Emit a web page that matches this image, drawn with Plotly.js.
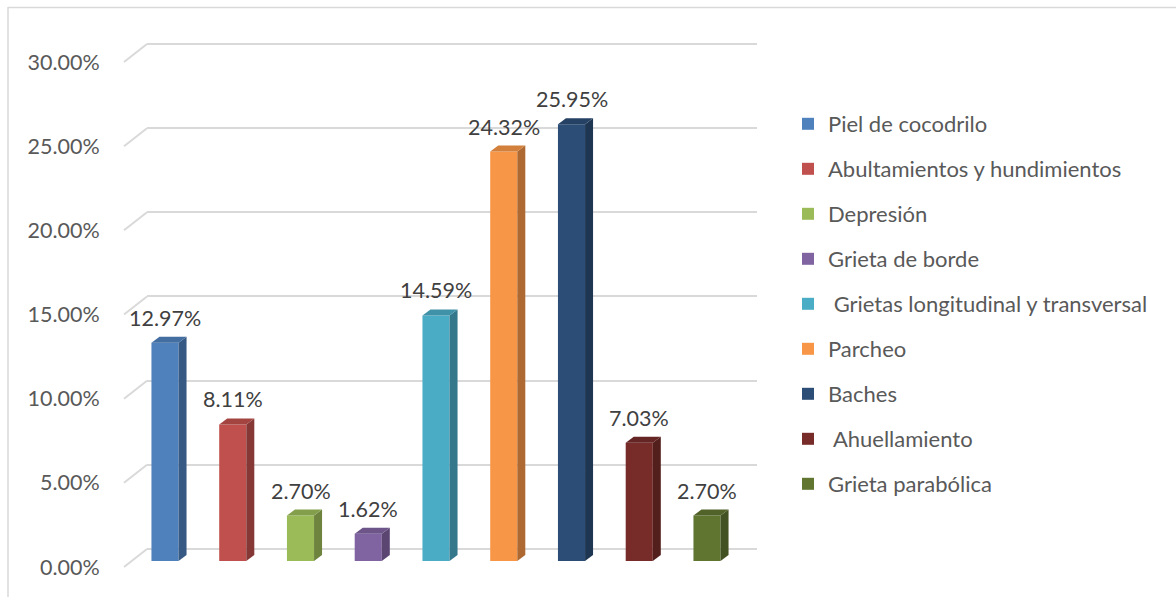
<!DOCTYPE html>
<html><head><meta charset="utf-8">
<script src="https://cdn.plot.ly/plotly-3.0.1.min.js"></script>
<style>html,body{margin:0;padding:0;background:#fff}#chart{width:1176px;height:597px}</style>
</head><body><div id="chart"></div>
<script>
// ---- data ----
const categories = ['Piel de cocodrilo', 'Abultamientos y hundimientos', 'Depresión', 'Grieta de borde',
  '\u00a0Grietas longitudinal y transversal', 'Parcheo', 'Baches', '\u00a0Ahuellamiento', 'Grieta parabólica'];
const values = [12.97, 8.11, 2.70, 1.62, 14.59, 24.32, 25.95, 7.03, 2.70];
const colors = ['#4F81BD', '#C0504D', '#9BBB59', '#8064A2', '#4BACC6', '#F79646', '#2C4D75', '#772C2A', '#5F7530'];
const tickValues = [0, 5, 10, 15, 20, 25, 30];
const tickLabels = ['0.00%', '5.00%', '10.00%', '15.00%', '20.00%', '25.00%', '30.00%'];

// ---- geometry (pixels) ----
const W = 1176, H = 597;
const FONT = 'Lato, "Open Sans", sans-serif';
const px = v => v / W, py = v => 1 - v / H;
const yRange = [0, 30];
const kyAll = (549 - 44) / 30;           // px per percent
const backExt = [-1.6, 31];              // extended back-plane range (room for slants)
const back = { x0: 147, x1: 757, y0: 549 + 1.6 * kyAll, y1: 44 - 1 * kyAll };
const front = { x0: 124, x1: 747, y0: 567, y1: 62 };
const barsP = { x0: 124.35, x1: 747.65, y0: 561, y1: 56 };
const xRange = [-0.6, 8.6];
const barWidth = 0.4;
const depthX = 8, depthY = 6;
const kx = (barsP.x1 - barsP.x0) / (xRange[1] - xRange[0]);
const ky = (barsP.y0 - barsP.y1) / (yRange[1] - yRange[0]);

function shade(hex, f) {
  const n = parseInt(hex.slice(1), 16);
  const r = Math.round(((n >> 16) & 255) * f), g = Math.round(((n >> 8) & 255) * f), b = Math.round((n & 255) * f);
  return `rgb(${r},${g},${b})`;
}

const traces = [
  { type: 'scatter', x: [], y: [], xaxis: 'x', yaxis: 'y', showlegend: false, hoverinfo: 'skip' },
  { type: 'scatter', x: [], y: [], xaxis: 'x2', yaxis: 'y2', showlegend: false, hoverinfo: 'skip' }
];
categories.forEach((c, i) => {
  traces.push({
    type: 'bar', x: [i], y: [values[i]], width: barWidth, name: c,
    marker: { color: colors[i], line: { width: 0 } },
    xaxis: 'x3', yaxis: 'y3', legendgroup: 'g' + i, hoverinfo: 'skip'
  });
});

const shapes = [];
// outer frame (only top and left edges visible)
shapes.push({ type: 'line', xref: 'paper', yref: 'paper', x0: px(8), x1: 1, y0: py(7.5), y1: py(7.5), line: { color: '#d9d9d9', width: 1.5 } });
shapes.push({ type: 'line', xref: 'paper', yref: 'paper', x0: px(8), x1: px(8), y0: py(7), y1: 0, line: { color: '#d9d9d9', width: 1.5 } });
// slanted side-wall gridline segments
tickValues.forEach(v => {
  shapes.push({
    type: 'line', xref: 'x domain', yref: 'y', layer: 'below',
    xsizemode: 'pixel', xanchor: 0, x0: 0, x1: -(back.x0 - front.x0),
    ysizemode: 'pixel', yanchor: v, y0: 0, y1: -(front.y0 - 549),
    line: { color: '#d9d9d9', width: 2 }
  });
});
// 3D faces of bars
const dxU = depthX / kx, dyU = depthY / ky, hw = barWidth / 2;
values.forEach((v, i) => {
  const xl = i - hw, xr = i + hw;
  shapes.push({
    type: 'path', xref: 'x3', yref: 'y3', layer: 'above',
    path: `M${xr},0 L${xr + dxU},${dyU} L${xr + dxU},${v + dyU} L${xr},${v} Z`,
    fillcolor: shade(colors[i], 0.7), line: { width: 0 }
  });
  shapes.push({
    type: 'path', xref: 'x3', yref: 'y3', layer: 'above',
    path: `M${xl},${v} L${xr},${v} L${xr + dxU},${v + dyU} L${xl + dxU},${v + dyU} Z`,
    fillcolor: shade(colors[i], 0.85), line: { width: 0 }
  });
});

const annotations = values.map((v, i) => ({
  xref: 'x3', yref: 'y3', x: i, y: v, text: v.toFixed(2) + '%', showarrow: false,
  yanchor: 'middle', yshift: 25, font: { family: FONT, size: 21.5, color: '#404040' }
}));

const hidden = { visible: false, fixedrange: true };
const layout = {
  width: W, height: H, margin: { l: 0, r: 0, t: 0, b: 0 },
  paper_bgcolor: '#ffffff', plot_bgcolor: 'rgba(0,0,0,0)',
  font: { family: FONT, size: 21.5, color: '#595959' },
  barmode: 'overlay', hovermode: false,
  xaxis: Object.assign({ domain: [px(back.x0), px(back.x1)], range: [0, 1], anchor: 'y' }, hidden),
  yaxis: {
    domain: [py(back.y0), py(back.y1)], range: backExt, anchor: 'x',
    tickvals: tickValues, showticklabels: false, showgrid: true, gridcolor: '#d9d9d9', gridwidth: 2,
    zeroline: false, showline: false, ticks: '', fixedrange: true
  },
  xaxis2: Object.assign({ domain: [px(front.x0), px(front.x1)], range: [0, 1], anchor: 'y2' }, hidden),
  yaxis2: {
    domain: [py(front.y0), py(front.y1)], range: yRange, anchor: 'x2',
    tickvals: tickValues, ticktext: tickLabels, showgrid: false, zeroline: false, showline: false,
    ticks: 'outside', ticklen: 19, tickcolor: 'rgba(0,0,0,0)',
    tickfont: { family: FONT, size: 21.5, color: '#595959' }, fixedrange: true
  },
  xaxis3: Object.assign({ domain: [px(barsP.x0), px(barsP.x1)], range: xRange, anchor: 'y3' }, hidden),
  yaxis3: Object.assign({ domain: [py(barsP.y0), py(barsP.y1)], range: yRange, anchor: 'x3' }, hidden),
  showlegend: true,
  legend: {
    x: px(788), xanchor: 'left', y: py(103), yanchor: 'top',
    font: { family: FONT, size: 22, color: '#595959' },
    tracegroupgap: 13.4, itemwidth: 30, bgcolor: 'rgba(0,0,0,0)', traceorder: 'grouped'
  },
  shapes: shapes, annotations: annotations
};

Plotly.newPlot('chart', traces, layout, { displayModeBar: false, staticPlot: true });
</script>
</body></html>
